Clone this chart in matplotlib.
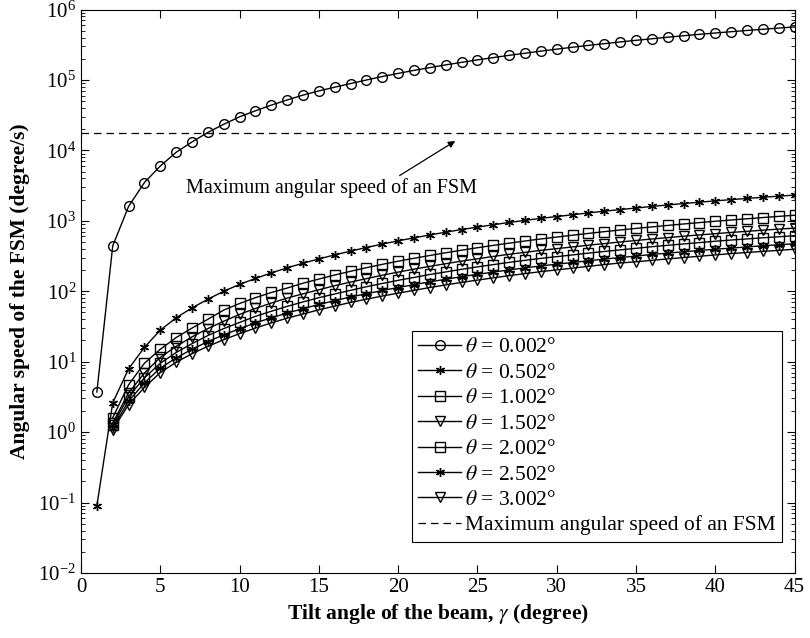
import numpy as np
import matplotlib
matplotlib.use('Agg')
import matplotlib.pyplot as plt

plt.rcParams['font.family'] = ['Liberation Serif', 'DejaVu Serif']
plt.rcParams['mathtext.fontset'] = 'stix'

# tilt angle gamma (degree)
gamma = list(range(1, 46))

# angular speed (degree/s), one list per theta
speed_0002 = [3.7, 440, 1600, 3500, 6000, 9400, 13200, 18000, 23500, 30000,
              36500, 44000, 52000, 61000, 70000, 79000, 89000, 100000, 112000, 124000,
              137000, 150000, 164000, 178000, 193000, 208000, 224000, 240000, 257000, 274000,
              292000, 310000, 328000, 347000, 366000, 385000, 405000, 425000, 445000, 465000,
              485000, 505000, 525000, 546000, 567000]
speed_0502 = [0.09, 2.6, 7.9, 16, 28, 42, 58, 77, 100, 125,
              152, 182, 215, 250, 288, 328, 372, 418, 468, 520,
              573, 630, 690, 752, 815, 880, 948, 1015, 1085, 1150,
              1220, 1295, 1370, 1445, 1520, 1600, 1680, 1760, 1840, 1920,
              2000, 2080, 2160, 2240, 2320]
speed_1002 = [np.nan, 1.6, 4.7, 9.5, 15, 22, 30, 40, 54, 67,
              81, 96, 111, 130, 149, 170, 192, 216, 241, 267,
              294, 322, 352, 383, 415, 448, 482, 517, 553, 588,
              625, 663, 702, 741, 780, 820, 861, 902, 944, 986,
              1028, 1070, 1113, 1157, 1200]
speed_1502 = [np.nan, 1.35, 3.6, 6.9, 11.5, 16.5, 22.5, 29.5, 37.5, 47,
              57, 68, 80, 92, 105, 120, 135, 151, 169, 187,
              206, 226, 246, 268, 289, 312, 335, 357, 381, 403,
              426, 451, 475, 501, 526, 552, 578, 605, 631, 657,
              684, 709, 737, 762, 789]
speed_2002 = [np.nan, 1.25, 3.2, 5.9, 9.5, 13.5, 18, 23.5, 29.5, 36,
              44, 52, 61, 70.5, 81, 91.5, 103, 116, 129, 143,
              157, 173, 188, 205, 222, 239, 257, 275, 293, 310,
              328, 348, 367, 387, 407, 429, 449, 470, 491, 513,
              534, 553, 574, 594, 615]
speed_2502 = [np.nan, 1.15, 2.75, 5.0, 8.1, 11.3, 15, 19.3, 24, 29.4,
              35.5, 42, 49, 56.5, 65, 73.5, 83, 92, 102.5, 113,
              124, 136, 148, 161, 174, 187, 201, 215, 229, 242,
              256, 271, 286, 301, 316, 333, 348, 364, 379, 396,
              410, 426, 443, 457, 473]
speed_3002 = [np.nan, 1.08, 2.45, 4.3, 7.0, 9.8, 13, 16.5, 20.5, 25,
              30, 35.5, 41.5, 47.5, 54.5, 61.5, 69.5, 77, 85.5, 94,
              103, 113, 123, 133.5, 144, 155, 166.5, 178, 190, 201,
              213, 226, 239, 252, 262, 275, 288, 301, 314, 328,
              343, 355, 368, 381, 395]

fsm_max = 17500

series = [
    (speed_0002, 'o', r'$\theta$ = 0.002°'),
    (speed_0502, (6, 2, 0), r'$\theta$ = 0.502°'),
    (speed_1002, 's', r'$\theta$ = 1.002°'),
    (speed_1502, 'v', r'$\theta$ = 1.502°'),
    (speed_2002, 's', r'$\theta$ = 2.002°'),
    (speed_2502, (6, 2, 0), r'$\theta$ = 2.502°'),
    (speed_3002, 'v', r'$\theta$ = 3.002°'),
]

fig = plt.figure(figsize=(8.1, 6.38), dpi=100)
ax = fig.add_axes([0.1, 0.102, 0.881, 0.883])

for vals, mk, lab in series:
    ms = 7 if mk == 'o' else 6.5
    ax.plot(gamma, vals, color='k', linewidth=1, marker=mk, markersize=ms,
            markerfacecolor='none', markeredgecolor='k', markeredgewidth=1, label=lab)

ax.axhline(fsm_max, color='k', linestyle=(0, (6, 4)), linewidth=0.9,
           label='Maximum angular speed of an FSM')

ax.annotate('Maximum angular speed of an FSM', xy=(23.6, 13600), xytext=(6.6, 2900),
            fontsize=14.5, va='center', ha='left',
            arrowprops=dict(arrowstyle='-|>', color='k', lw=0.9, mutation_scale=10,
                            shrinkA=0, shrinkB=0, relpos=(0.72, 1.0)))

ax.set_yscale('log')
ax.set_xlim(0, 45)
ax.set_ylim(1e-2, 1e6)
ax.set_xticks(np.arange(0, 46, 5))
ax.set_yticks([10.0 ** k for k in range(-2, 7)])
ax.tick_params(which='both', direction='in', top=True, right=True, labelsize=15)
ax.tick_params(which='major', length=6)
ax.tick_params(which='minor', length=3)
for s in ax.spines.values():
    s.set_linewidth(0.8)

ax.set_xlabel(r'Tilt angle of the beam, $\gamma$ (degree)', fontsize=15.5, fontweight='bold')
ax.set_ylabel('Angular speed of the FSM (degree/s)', fontsize=15.5, fontweight='bold',
              labelpad=6)

leg = ax.legend(loc='lower right', bbox_to_anchor=(0.983, 0.055), fontsize=15.5,
                frameon=True, fancybox=False, edgecolor='k', framealpha=1,
                handlelength=2.0, handletextpad=0.2, borderpad=0.3, labelspacing=0.25,
                borderaxespad=0)
leg.get_frame().set_linewidth(0.8)

plt.savefig('out.png', dpi=100)
